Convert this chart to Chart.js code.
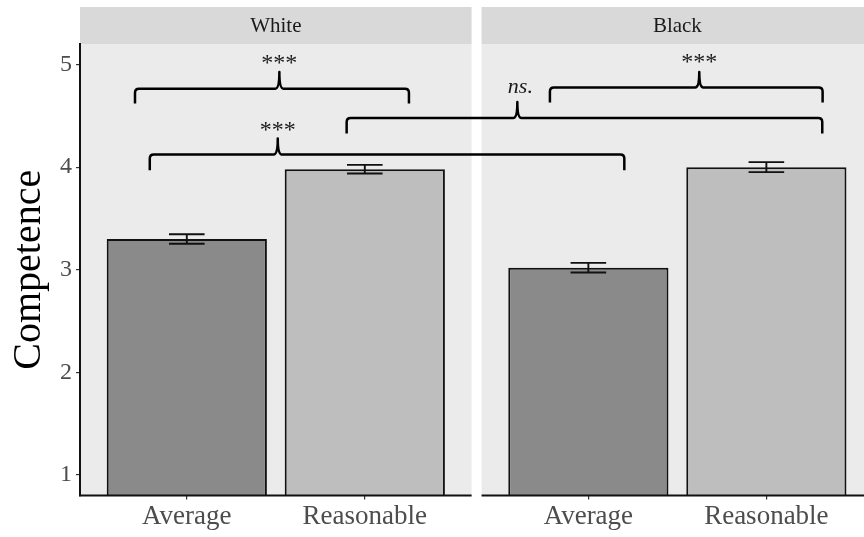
<!DOCTYPE html>
<html><head><meta charset="utf-8">
<script src="https://cdn.jsdelivr.net/npm/chart.js@4"></script>
<style>html,body{margin:0;padding:0;background:#fff}</style>
</head><body>
<canvas id="c" width="864" height="537"></canvas>
<script>
const panels = ['White', 'Black'];
const categories = ['Average', 'Reasonable'];
const whiteMeans = [3.30, 3.98];
const blackMeans = [3.02, 4.00];
const whiteSE = [0.046, 0.042];
const blackSE = [0.047, 0.049];
const yTicks = [1, 2, 3, 4, 5];
const yTitle = 'Competence';
// significance brackets (x in panel-axis units, y in Competence units)
const bracketLabels = ['***', '***', 'ns.', '***'];
const bracketLeft   = [0.709, 0.792, 1.898, 3.040];
const bracketRight  = [2.248, 3.458, 4.570, 4.572];
const bracketLevel  = [4.765, 4.123, 4.479, 4.775];
const bracketEnd    = [4.619, 3.970, 4.327, 4.629];
const bracketTipX   = [1.520, 1.511, 2.857, 3.879];
const bracketTip    = [4.927, 4.278, 4.635, 4.927];
const bracketLabelY = [4.945, 4.297, 4.722, 4.955];

// facet geometry (ggplot discrete expansion 0.6 each side)
const X0 = 0.4, PANEL_SPAN = 2.2, PANEL_GAP = 0.056;
const panelStart = i => X0 + i * (PANEL_SPAN + PANEL_GAP);
const catPos = (p, c) => panelStart(p) + 0.6 + c;
const means = [whiteMeans, blackMeans];
const ses = [whiteSE, blackSE];
const fills = ['#8a8a8a', '#bebebe'];

const points = [], colors = [], errs = [], tickPos = [];
panels.forEach((p, pi) => categories.forEach((c, ci) => {
  points.push({x: catPos(pi, ci), y: means[pi][ci]});
  errs.push(ses[pi][ci]);
  colors.push(fills[ci]);
  tickPos.push(catPos(pi, ci));
}));

const SERIF = "'Liberation Serif', 'Times New Roman', serif";

const facetPlugin = {
  id: 'facet',
  beforeDraw(chart) {
    const {ctx, chartArea} = chart;
    const xs = chart.scales.x;
    ctx.save();
    panels.forEach((name, i) => {
      const x1 = xs.getPixelForValue(panelStart(i));
      const x2 = xs.getPixelForValue(panelStart(i) + PANEL_SPAN);
      ctx.fillStyle = '#ebebeb';
      ctx.fillRect(x1, chartArea.top, x2 - x1, chartArea.bottom - chartArea.top);
      ctx.fillStyle = '#d9d9d9';
      ctx.fillRect(x1, 7, x2 - x1, chartArea.top - 7);
      ctx.fillStyle = '#1a1a1a';
      ctx.font = '21px ' + SERIF;
      ctx.textAlign = 'center';
      ctx.textBaseline = 'middle';
      ctx.fillText(name, (x1 + x2) / 2, (7 + chartArea.top) / 2 + 1);
    });
    ctx.restore();
  },
  afterDatasetsDraw(chart) {
    const {ctx, chartArea} = chart;
    const xs = chart.scales.x, ys = chart.scales.y;
    ctx.save();
    // error bars
    ctx.strokeStyle = '#111';
    ctx.lineWidth = 1.9;
    points.forEach((pt, i) => {
      const cx = xs.getPixelForValue(pt.x);
      const hw = xs.getPixelForValue(pt.x + 0.1) - cx;
      const yt = ys.getPixelForValue(pt.y + errs[i]);
      const yb = ys.getPixelForValue(pt.y - errs[i]);
      ctx.beginPath();
      ctx.moveTo(cx - hw, yt); ctx.lineTo(cx + hw, yt);
      ctx.moveTo(cx - hw, yb); ctx.lineTo(cx + hw, yb);
      ctx.moveTo(cx, yt); ctx.lineTo(cx, yb);
      ctx.stroke();
    });
    // x axis lines per panel
    ctx.strokeStyle = '#111';
    ctx.lineWidth = 2;
    panels.forEach((n, i) => {
      const x1 = xs.getPixelForValue(panelStart(i));
      const x2 = xs.getPixelForValue(panelStart(i) + PANEL_SPAN);
      ctx.beginPath();
      ctx.moveTo(i === 0 ? x1 - 1 : x1, chartArea.bottom);
      ctx.lineTo(x2, chartArea.bottom);
      ctx.stroke();
    });
    // brackets
    ctx.strokeStyle = '#000';
    ctx.lineWidth = 2.5;
    ctx.lineJoin = 'round';
    bracketLabels.forEach((lab, i) => {
      const L = xs.getPixelForValue(bracketLeft[i]);
      const R = xs.getPixelForValue(bracketRight[i]);
      const T = xs.getPixelForValue(bracketTipX[i]);
      const H = ys.getPixelForValue(bracketLevel[i]);
      const E = ys.getPixelForValue(bracketEnd[i]);
      const P = ys.getPixelForValue(bracketTip[i]);
      const r = 4, t = 4;
      ctx.beginPath();
      ctx.moveTo(L, E);
      ctx.lineTo(L, H + r);
      ctx.quadraticCurveTo(L, H, L + r, H);
      ctx.lineTo(T - t, H);
      ctx.quadraticCurveTo(T, H, T, P);
      ctx.quadraticCurveTo(T, H, T + t, H);
      ctx.lineTo(R - r, H);
      ctx.quadraticCurveTo(R, H, R, H + r);
      ctx.lineTo(R, E);
      ctx.stroke();
      ctx.fillStyle = '#1a1a1a';
      ctx.textAlign = 'center';
      ctx.textBaseline = 'alphabetic';
      ctx.font = (lab === 'ns.' ? 'italic 22px ' : '24px ') + SERIF;
      ctx.fillText(lab, T + (lab === 'ns.' ? 3 : 0), ys.getPixelForValue(bracketLabelY[i]));
    });
    ctx.restore();
  }
};

new Chart(document.getElementById('c'), {
  type: 'bar',
  data: {
    datasets: [{
      data: points,
      backgroundColor: colors,
      borderColor: '#111',
      borderWidth: 2,
      borderSkipped: 'bottom',
      categoryPercentage: 1,
      barPercentage: 0.9
    }]
  },
  options: {
    responsive: false,
    animation: false,
    devicePixelRatio: 1,
    layout: {padding: {top: 44, left: 0, right: 0, bottom: 0}},
    plugins: {legend: {display: false}, tooltip: {enabled: false}},
    scales: {
      x: {
        type: 'linear',
        offset: false,
        min: X0,
        max: X0 + 784 / 178,
        afterBuildTicks: s => { s.ticks = tickPos.map(v => ({value: v})); },
        afterFit: s => { s.height = 41.5; },
        grid: {display: true, offset: false, drawOnChartArea: false, drawTicks: true, tickLength: 4, color: '#333', lineWidth: 1.2},
        border: {display: false},
        ticks: {
          autoSkip: false, maxRotation: 0, padding: 1,
          callback: (v, i) => categories[i % categories.length],
          font: {family: SERIF, size: 27}, color: '#4d4d4d'
        }
      },
      y: {
        type: 'linear',
        min: 0.8,
        max: 5.2,
        afterBuildTicks: s => { s.ticks = yTicks.map(v => ({value: v})); },
        afterFit: s => { s.width = 80; },
        grid: {display: true, drawOnChartArea: false, drawTicks: true, tickLength: 4, color: '#333', lineWidth: 1.2},
        border: {display: true, color: '#111', width: 2},
        ticks: {padding: 4, font: {family: SERIF, size: 24}, color: '#4d4d4d'},
        title: {display: true, text: yTitle, font: {family: SERIF, size: 40}, color: '#000', padding: {top: 5, bottom: 0}}
      }
    }
  },
  plugins: [facetPlugin]
});
</script>
</body></html>
